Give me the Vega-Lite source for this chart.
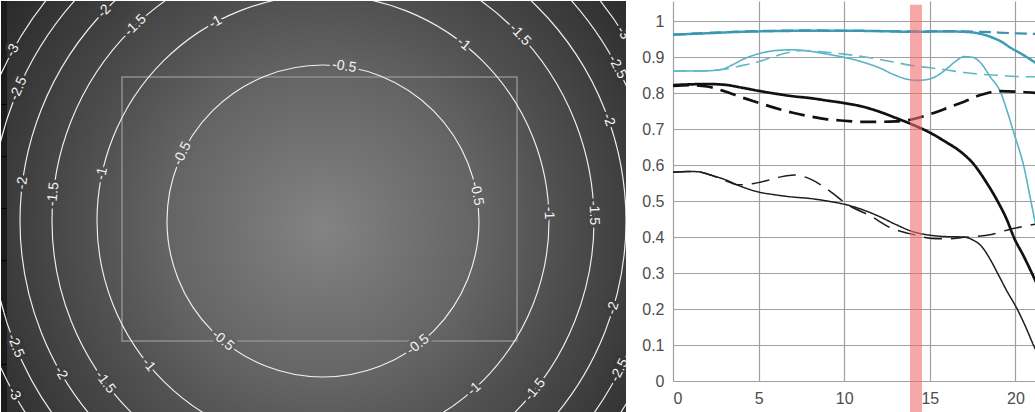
{
  "$schema": "https://vega.github.io/schema/vega-lite/v6.json",
  "padding": 0,
  "background": "white",
  "spacing": 0,
  "config": {"view": {"stroke": null}},
  "datasets": {
    "contours": [
      {"level": -0.5, "radius": 156},
      {"level": -1, "radius": 226},
      {"level": -1.5, "radius": 271},
      {"level": -2, "radius": 303},
      {"level": -2.5, "radius": 332},
      {"level": -3, "radius": 354}
    ],
    "labels": [
      {"level": -3, "label": "-3", "x": -310.2, "y": 170.6, "angle": -61.2},
      {"level": -2.5, "label": "-2.5", "x": -304.5, "y": 132.4, "angle": -66.5},
      {"level": -2, "label": "-2", "x": -218.7, "y": 209.7, "angle": -46.2},
      {"level": -1.5, "label": "-1.5", "x": -187.6, "y": 195.6, "angle": -43.8},
      {"level": -1, "label": "-1", "x": -107.5, "y": 198.8, "angle": -28.4},
      {"level": -0.5, "label": "-0.5", "x": -140.7, "y": 67.4, "angle": -64.4},
      {"level": -1, "label": "-1", "x": -221.0, "y": 47.4, "angle": -77.9},
      {"level": -1.5, "label": "-1.5", "x": -269.7, "y": 26.9, "angle": -84.3},
      {"level": -2, "label": "-2", "x": -300.6, "y": 38.0, "angle": -82.8},
      {"level": -1, "label": "-1", "x": 140.7, "y": 176.9, "angle": 38.5},
      {"level": -1.5, "label": "-1.5", "x": 196.9, "y": 186.2, "angle": 46.6},
      {"level": -3, "label": "-3", "x": 299.9, "y": 188.1, "angle": 57.9},
      {"level": -2.5, "label": "-2.5", "x": 294.2, "y": 153.8, "angle": 62.4},
      {"level": -2, "label": "-2", "x": 285.6, "y": 101.1, "angle": 70.5},
      {"level": -0.5, "label": "-0.5", "x": 21.2, "y": 154.6, "angle": 7.8},
      {"level": -0.5, "label": "-0.5", "x": 153.6, "y": 27.4, "angle": 79.9},
      {"level": -1, "label": "-1", "x": 225.9, "y": 7.9, "angle": 88.0},
      {"level": -1.5, "label": "-1.5", "x": 270.9, "y": 8.0, "angle": 88.3},
      {"level": -2.5, "label": "-2.5", "x": -307.6, "y": -124.9, "angle": 67.9},
      {"level": -3, "label": "-3", "x": -309.0, "y": -172.7, "angle": 60.8},
      {"level": -2, "label": "-2", "x": -262.2, "y": -152.0, "angle": 59.9},
      {"level": -1.5, "label": "-1.5", "x": -217.9, "y": -161.2, "angle": 53.5},
      {"level": -1, "label": "-1", "x": -174.4, "y": -143.8, "angle": 50.5},
      {"level": -0.5, "label": "-0.5", "x": -100.3, "y": -119.5, "angle": 40.0},
      {"level": -0.5, "label": "-0.5", "x": 95.0, "y": -123.8, "angle": -37.5},
      {"level": -1, "label": "-1", "x": 151.2, "y": -167.9, "angle": -42.0},
      {"level": -1.5, "label": "-1.5", "x": 212.1, "y": -168.7, "angle": -51.5},
      {"level": -2, "label": "-2", "x": 290.2, "y": -87.1, "angle": -73.3},
      {"level": -2.5, "label": "-2.5", "x": 296.6, "y": -149.2, "angle": -63.3}
    ],
    "frame": [
      {"left": -201, "right": 194, "top": 144, "bottom": -120}
    ],
    "mtf": [
      {"series": "f8-S10", "x": 0, "y": 0.962}, {"series": "f8-S10", "x": 2, "y": 0.966}, {"series": "f8-S10", "x": 4, "y": 0.97}, {"series": "f8-S10", "x": 6, "y": 0.972}, {"series": "f8-S10", "x": 8, "y": 0.973}, {"series": "f8-S10", "x": 10, "y": 0.973}, {"series": "f8-S10", "x": 12, "y": 0.972}, {"series": "f8-S10", "x": 14, "y": 0.97}, {"series": "f8-S10", "x": 16, "y": 0.971}, {"series": "f8-S10", "x": 17, "y": 0.97}, {"series": "f8-S10", "x": 17.8, "y": 0.966}, {"series": "f8-S10", "x": 18.6, "y": 0.955}, {"series": "f8-S10", "x": 19.2, "y": 0.942}, {"series": "f8-S10", "x": 19.7, "y": 0.926}, {"series": "f8-S10", "x": 20.3, "y": 0.91}, {"series": "f8-S10", "x": 20.85, "y": 0.894}, {"series": "f8-S10", "x": 21.2, "y": 0.883},
      {"series": "f8-M10", "x": 0, "y": 0.962}, {"series": "f8-M10", "x": 2, "y": 0.967}, {"series": "f8-M10", "x": 4, "y": 0.971}, {"series": "f8-M10", "x": 6, "y": 0.973}, {"series": "f8-M10", "x": 8, "y": 0.974}, {"series": "f8-M10", "x": 10, "y": 0.973}, {"series": "f8-M10", "x": 12, "y": 0.972}, {"series": "f8-M10", "x": 14, "y": 0.971}, {"series": "f8-M10", "x": 16, "y": 0.972}, {"series": "f8-M10", "x": 18, "y": 0.97}, {"series": "f8-M10", "x": 19, "y": 0.968}, {"series": "f8-M10", "x": 20, "y": 0.966}, {"series": "f8-M10", "x": 21.2, "y": 0.964},
      {"series": "f8-S30", "x": 0, "y": 0.861}, {"series": "f8-S30", "x": 1.5, "y": 0.861}, {"series": "f8-S30", "x": 2.8, "y": 0.865}, {"series": "f8-S30", "x": 3.5, "y": 0.879}, {"series": "f8-S30", "x": 4.2, "y": 0.896}, {"series": "f8-S30", "x": 5, "y": 0.909}, {"series": "f8-S30", "x": 6, "y": 0.918}, {"series": "f8-S30", "x": 7, "y": 0.92}, {"series": "f8-S30", "x": 8, "y": 0.916}, {"series": "f8-S30", "x": 9, "y": 0.908}, {"series": "f8-S30", "x": 10, "y": 0.899}, {"series": "f8-S30", "x": 11, "y": 0.887}, {"series": "f8-S30", "x": 12, "y": 0.871}, {"series": "f8-S30", "x": 13, "y": 0.849}, {"series": "f8-S30", "x": 13.7, "y": 0.838}, {"series": "f8-S30", "x": 14.3, "y": 0.835}, {"series": "f8-S30", "x": 14.9, "y": 0.838}, {"series": "f8-S30", "x": 15.5, "y": 0.85}, {"series": "f8-S30", "x": 16, "y": 0.868}, {"series": "f8-S30", "x": 16.5, "y": 0.888}, {"series": "f8-S30", "x": 17, "y": 0.901}, {"series": "f8-S30", "x": 17.5, "y": 0.899}, {"series": "f8-S30", "x": 18, "y": 0.882}, {"series": "f8-S30", "x": 18.5, "y": 0.847}, {"series": "f8-S30", "x": 19.15, "y": 0.8}, {"series": "f8-S30", "x": 19.5, "y": 0.752}, {"series": "f8-S30", "x": 19.9, "y": 0.69}, {"series": "f8-S30", "x": 20.5, "y": 0.594}, {"series": "f8-S30", "x": 20.9, "y": 0.5}, {"series": "f8-S30", "x": 21.2, "y": 0.43},
      {"series": "f8-M30", "x": 0, "y": 0.861}, {"series": "f8-M30", "x": 2, "y": 0.862}, {"series": "f8-M30", "x": 3, "y": 0.866}, {"series": "f8-M30", "x": 4, "y": 0.876}, {"series": "f8-M30", "x": 5, "y": 0.887}, {"series": "f8-M30", "x": 6, "y": 0.903}, {"series": "f8-M30", "x": 7, "y": 0.915}, {"series": "f8-M30", "x": 7.6, "y": 0.918}, {"series": "f8-M30", "x": 8.5, "y": 0.915}, {"series": "f8-M30", "x": 10, "y": 0.908}, {"series": "f8-M30", "x": 11.5, "y": 0.898}, {"series": "f8-M30", "x": 13, "y": 0.885}, {"series": "f8-M30", "x": 14, "y": 0.876}, {"series": "f8-M30", "x": 15, "y": 0.87}, {"series": "f8-M30", "x": 16, "y": 0.864}, {"series": "f8-M30", "x": 17, "y": 0.857}, {"series": "f8-M30", "x": 18, "y": 0.852}, {"series": "f8-M30", "x": 19, "y": 0.849}, {"series": "f8-M30", "x": 20, "y": 0.846}, {"series": "f8-M30", "x": 21.2, "y": 0.845},
      {"series": "wo-S10", "x": 0, "y": 0.822}, {"series": "wo-S10", "x": 1, "y": 0.824}, {"series": "wo-S10", "x": 2, "y": 0.825}, {"series": "wo-S10", "x": 3, "y": 0.823}, {"series": "wo-S10", "x": 4, "y": 0.815}, {"series": "wo-S10", "x": 5, "y": 0.806}, {"series": "wo-S10", "x": 6, "y": 0.798}, {"series": "wo-S10", "x": 7, "y": 0.791}, {"series": "wo-S10", "x": 8, "y": 0.786}, {"series": "wo-S10", "x": 9, "y": 0.779}, {"series": "wo-S10", "x": 10, "y": 0.772}, {"series": "wo-S10", "x": 11, "y": 0.763}, {"series": "wo-S10", "x": 12, "y": 0.749}, {"series": "wo-S10", "x": 13, "y": 0.731}, {"series": "wo-S10", "x": 14, "y": 0.712}, {"series": "wo-S10", "x": 15, "y": 0.69}, {"series": "wo-S10", "x": 16, "y": 0.662}, {"series": "wo-S10", "x": 16.6, "y": 0.644}, {"series": "wo-S10", "x": 17.6, "y": 0.6}, {"series": "wo-S10", "x": 18.3, "y": 0.552}, {"series": "wo-S10", "x": 18.95, "y": 0.5}, {"series": "wo-S10", "x": 19.5, "y": 0.448}, {"series": "wo-S10", "x": 19.9, "y": 0.4}, {"series": "wo-S10", "x": 20.5, "y": 0.345}, {"series": "wo-S10", "x": 21.2, "y": 0.275},
      {"series": "wo-M10", "x": 0, "y": 0.82}, {"series": "wo-M10", "x": 1, "y": 0.822}, {"series": "wo-M10", "x": 2, "y": 0.818}, {"series": "wo-M10", "x": 3, "y": 0.805}, {"series": "wo-M10", "x": 4, "y": 0.788}, {"series": "wo-M10", "x": 5, "y": 0.773}, {"series": "wo-M10", "x": 6, "y": 0.758}, {"series": "wo-M10", "x": 7, "y": 0.745}, {"series": "wo-M10", "x": 8, "y": 0.735}, {"series": "wo-M10", "x": 9, "y": 0.727}, {"series": "wo-M10", "x": 10, "y": 0.723}, {"series": "wo-M10", "x": 11, "y": 0.72}, {"series": "wo-M10", "x": 12, "y": 0.72}, {"series": "wo-M10", "x": 13, "y": 0.721}, {"series": "wo-M10", "x": 14, "y": 0.727}, {"series": "wo-M10", "x": 15, "y": 0.741}, {"series": "wo-M10", "x": 16, "y": 0.758}, {"series": "wo-M10", "x": 17, "y": 0.776}, {"series": "wo-M10", "x": 18, "y": 0.795}, {"series": "wo-M10", "x": 19, "y": 0.805}, {"series": "wo-M10", "x": 20, "y": 0.804}, {"series": "wo-M10", "x": 21.2, "y": 0.8},
      {"series": "wo-S30", "x": 0, "y": 0.58}, {"series": "wo-S30", "x": 1, "y": 0.582}, {"series": "wo-S30", "x": 1.5, "y": 0.581}, {"series": "wo-S30", "x": 2.2, "y": 0.572}, {"series": "wo-S30", "x": 3, "y": 0.56}, {"series": "wo-S30", "x": 4, "y": 0.54}, {"series": "wo-S30", "x": 5, "y": 0.525}, {"series": "wo-S30", "x": 6, "y": 0.517}, {"series": "wo-S30", "x": 7, "y": 0.511}, {"series": "wo-S30", "x": 8, "y": 0.507}, {"series": "wo-S30", "x": 9, "y": 0.5}, {"series": "wo-S30", "x": 10, "y": 0.491}, {"series": "wo-S30", "x": 11, "y": 0.477}, {"series": "wo-S30", "x": 12, "y": 0.458}, {"series": "wo-S30", "x": 13, "y": 0.435}, {"series": "wo-S30", "x": 14, "y": 0.415}, {"series": "wo-S30", "x": 15, "y": 0.405}, {"series": "wo-S30", "x": 16, "y": 0.401}, {"series": "wo-S30", "x": 17, "y": 0.4}, {"series": "wo-S30", "x": 17.5, "y": 0.392}, {"series": "wo-S30", "x": 18, "y": 0.375}, {"series": "wo-S30", "x": 18.5, "y": 0.34}, {"series": "wo-S30", "x": 18.95, "y": 0.3}, {"series": "wo-S30", "x": 19.5, "y": 0.25}, {"series": "wo-S30", "x": 20.1, "y": 0.2}, {"series": "wo-S30", "x": 20.6, "y": 0.15}, {"series": "wo-S30", "x": 21.05, "y": 0.1}, {"series": "wo-S30", "x": 21.2, "y": 0.085},
      {"series": "wo-M30", "x": 0, "y": 0.58}, {"series": "wo-M30", "x": 1, "y": 0.582}, {"series": "wo-M30", "x": 1.5, "y": 0.581}, {"series": "wo-M30", "x": 2.5, "y": 0.567}, {"series": "wo-M30", "x": 3.3, "y": 0.552}, {"series": "wo-M30", "x": 3.8, "y": 0.545}, {"series": "wo-M30", "x": 4.5, "y": 0.547}, {"series": "wo-M30", "x": 5.5, "y": 0.557}, {"series": "wo-M30", "x": 6.3, "y": 0.567}, {"series": "wo-M30", "x": 7.1, "y": 0.572}, {"series": "wo-M30", "x": 8.06, "y": 0.56}, {"series": "wo-M30", "x": 9.03, "y": 0.532}, {"series": "wo-M30", "x": 10.2, "y": 0.49}, {"series": "wo-M30", "x": 11.55, "y": 0.458}, {"series": "wo-M30", "x": 12.7, "y": 0.426}, {"series": "wo-M30", "x": 14.1, "y": 0.406}, {"series": "wo-M30", "x": 15.1, "y": 0.396}, {"series": "wo-M30", "x": 16, "y": 0.395}, {"series": "wo-M30", "x": 17, "y": 0.399}, {"series": "wo-M30", "x": 18.6, "y": 0.407}, {"series": "wo-M30", "x": 19.5, "y": 0.419}, {"series": "wo-M30", "x": 21.2, "y": 0.436}
    ],
    "band": [
      {"from": 13.84, "to": 14.54, "low": -0.088, "high": 1.045}
    ]
  },
  "hconcat": [
    {
      "width": 625,
      "height": 412,
      "view": {"fill": "#1c1c1c", "stroke": null},
      "layer": [
        {
          "data": {"values": [{"area": "image"}]},
          "mark": {
            "type": "rect",
            "fill": {
              "gradient": "radial",
              "x1": 0.5105, "y1": 0.534, "r1": 0,
              "x2": 0.5105, "y2": 0.534, "r2": 0.63,
              "stops": [
                {"offset": 0, "color": "#838383"},
                {"offset": 0.4, "color": "#646464"},
                {"offset": 0.58, "color": "#525252"},
                {"offset": 0.78, "color": "#3f3f3f"},
                {"offset": 1, "color": "#2a2a2a"}
              ]
            }
          },
          "encoding": {
            "x": {"datum": -316, "type": "quantitative"},
            "x2": {"datum": 303},
            "y": {"datum": 220, "type": "quantitative"},
            "y2": {"datum": -192}
          }
        },
        {
          "data": {"name": "frame"},
          "mark": {"type": "rect", "filled": false, "stroke": "#8e8e8e", "strokeWidth": 1.5},
          "encoding": {
            "x": {
              "field": "left", "type": "quantitative",
              "scale": {"domain": [-322, 303], "nice": false, "zero": false},
              "axis": {"orient": "top", "values": [-212, -108, -4, 100, 204], "labels": false, "domain": false, "grid": false, "ticks": true, "tickSize": -5, "tickColor": "#000000", "tickWidth": 1, "title": null, "minExtent": 0, "maxExtent": 0}
            },
            "x2": {"field": "right"},
            "y": {
              "field": "top", "type": "quantitative",
              "scale": {"domain": [-192, 220], "nice": false, "zero": false},
              "axis": {"orient": "left", "values": [117, 65, 13, -39, -91, -143], "tickCount": 10, "labels": false, "domain": false, "grid": false, "ticks": true, "tickSize": -5, "tickColor": "#000000", "tickWidth": 1, "title": null, "minExtent": 0, "maxExtent": 0}
            },
            "y2": {"field": "bottom"}
          }
        },
        {
          "data": {"name": "contours"},
          "mark": {"type": "point", "shape": "circle", "filled": false, "stroke": "#f0f0f0", "strokeWidth": 1.15, "opacity": 1, "clip": true},
          "encoding": {
            "x": {"datum": 0, "type": "quantitative"},
            "y": {"datum": 0, "type": "quantitative"},
            "size": {"field": "radius", "type": "quantitative", "scale": {"type": "pow", "exponent": 2, "domain": [0, 400], "range": [0, 640000]}, "legend": null}
          }
        },
        {
          "data": {"name": "labels"},
          "mark": {"type": "text", "align": "center", "baseline": "middle", "font": "Liberation Sans", "fontSize": 14, "strokeWidth": 6, "strokeJoin": "round", "clip": true},
          "encoding": {
            "x": {"field": "x", "type": "quantitative"},
            "y": {"field": "y", "type": "quantitative"},
            "text": {"field": "label"},
            "angle": {"field": "angle", "type": "quantitative", "scale": null},
            "stroke": {"field": "level", "type": "ordinal", "scale": {"type": "ordinal", "domain": [-3, -2.5, -2, -1.5, -1, -0.5], "range": ["#323232", "#373737", "#3e3e3e", "#474747", "#525252", "#636363"]}, "legend": null},
            "fill": {"field": "level", "type": "ordinal", "scale": {"type": "ordinal", "domain": [-3, -2.5, -2, -1.5, -1, -0.5], "range": ["#323232", "#373737", "#3e3e3e", "#474747", "#525252", "#636363"]}, "legend": null}
          }
        },
        {
          "data": {"name": "labels"},
          "mark": {"type": "text", "align": "center", "baseline": "middle", "font": "Liberation Sans", "fontSize": 14, "fill": "#f4f4f4", "clip": true},
          "encoding": {
            "x": {"field": "x", "type": "quantitative"},
            "y": {"field": "y", "type": "quantitative"},
            "text": {"field": "label"},
            "angle": {"field": "angle", "type": "quantitative", "scale": null}
          }
        }
      ]
    },
    {
      "width": 363,
      "height": 380,
      "layer": [
        {
          "data": {"name": "mtf"},
          "mark": {"type": "line", "interpolate": "monotone"},
          "encoding": {
            "x": {
              "field": "x", "type": "quantitative",
              "scale": {"domain": [0, 21.2], "nice": false, "zero": false},
              "axis": {"values": [0, 5, 10, 15, 20], "tickCount": 10, "grid": true, "gridColor": "#a0a0a0", "gridWidth": 1.2, "domain": false, "ticks": false, "labelFont": "Liberation Sans", "labelFontSize": 16, "labelColor": "#4d4d4d", "labelPadding": 9, "labelOverlap": false, "title": null}
            },
            "y": {
              "field": "y", "type": "quantitative",
              "scale": {"domain": [0, 1.0556], "nice": false, "zero": false},
              "axis": {"values": [0, 0.1, 0.2, 0.3, 0.4, 0.5, 0.6, 0.7, 0.8, 0.9, 1], "tickCount": 20, "format": "~g", "grid": true, "gridColor": "#a0a0a0", "gridWidth": 1.2, "domain": false, "ticks": false, "labelFont": "Liberation Sans", "labelFontSize": 16, "labelColor": "#4d4d4d", "labelPadding": 9, "labelOverlap": false, "title": null, "minExtent": 47, "maxExtent": 47}
            },
            "detail": {"field": "series"},
            "color": {"field": "series", "type": "nominal", "legend": null, "scale": {"domain": ["wo-S30", "wo-M30", "wo-S10", "wo-M10", "f8-M30", "f8-S30", "f8-M10", "f8-S10"], "range": ["#1e1e1e", "#1e1e1e", "#111111", "#111111", "#5fb7c7", "#5ab3c4", "#3d93b0", "#3e9db4"]}},
            "strokeDash": {"field": "series", "type": "nominal", "legend": null, "scale": {"domain": ["wo-S30", "wo-M30", "wo-S10", "wo-M10", "f8-M30", "f8-S30", "f8-M10", "f8-S10"], "range": [[1, 0], [18, 9], [1, 0], [16, 8], [14, 7], [1, 0], [12, 6], [1, 0]]}},
            "strokeWidth": {"field": "series", "type": "nominal", "legend": null, "scale": {"type": "ordinal", "domain": ["wo-S30", "wo-M30", "wo-S10", "wo-M10", "f8-M30", "f8-S30", "f8-M10", "f8-S10"], "range": [1.5, 1.5, 2.7, 2.7, 1.6, 1.6, 2.2, 2.5]}}
          }
        },
        {
          "data": {"name": "band"},
          "mark": {"type": "rect", "fill": "#f06e6e", "opacity": 0.6},
          "encoding": {
            "x": {"field": "from", "type": "quantitative"},
            "x2": {"field": "to"},
            "y": {"field": "low", "type": "quantitative"},
            "y2": {"field": "high"}
          }
        }
      ]
    }
  ]
}
